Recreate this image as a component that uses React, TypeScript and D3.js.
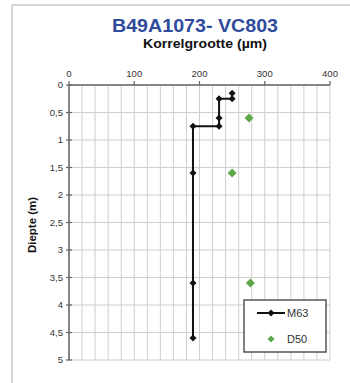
import React from "react";
import * as d3 from "d3";

const m63Size = [250, 250, 230, 230, 230, 190, 190, 190, 190];
const m63Depth = [0.15, 0.25, 0.25, 0.6, 0.75, 0.75, 1.6, 3.6, 4.6];
const d50Size = [276, 250, 278];
const d50Depth = [0.6, 1.6, 3.6];
const xTicks = [0, 100, 200, 300, 400];
const yTicks = [0, 0.5, 1, 1.5, 2, 2.5, 3, 3.5, 4, 4.5, 5];

export default function App() {
  const W = 350, H = 383;
  const x = d3.scaleLinear().domain([0, 400]).range([69, 330]);
  const y = d3.scaleLinear().domain([0, 5]).range([85, 360]);
  const xGrid = d3.range(0, 401, 20);
  const line = d3.line<number>().x((_, i) => x(m63Size[i])).y((d) => y(d));
  const diamond = (cx: number, cy: number, r: number) =>
    `M${cx},${cy - r}L${cx + r},${cy}L${cx},${cy + r}L${cx - r},${cy}Z`;
  const font = "Liberation Sans, Arial, sans-serif";
  return (
    <svg width={W} height={H} style={{ position: "absolute", left: 0, top: 0 }} fontFamily={font}>
      <rect x={0} y={0} width={W} height={H} fill="#fff" />
      <line x1={12} y1={5} x2={12} y2={H} stroke="#aaa" strokeWidth={1} />
      <line x1={12} y1={5} x2={W} y2={5} stroke="#aaa" strokeWidth={1} />
      <text x={112} y={32} fontSize={17.5} fontWeight="bold" fill="#2f4c9c" textLength={166} lengthAdjust="spacingAndGlyphs">B49A1073- VC803</text>
      <text x={143} y={48} fontSize={12} fontWeight="bold" fill="#111" textLength={124} lengthAdjust="spacingAndGlyphs">Korrelgrootte (µm)</text>
      {xGrid.map((g) => (
        <line key={"xg" + g} x1={x(g)} x2={x(g)} y1={y(0)} y2={y(5)} stroke="#cfcfcf" strokeWidth={1} />
      ))}
      {yTicks.map((t) => (
        <line key={"yg" + t} x1={x(0)} x2={x(400)} y1={y(t)} y2={y(t)} stroke="#cfcfcf" strokeWidth={1} />
      ))}
      <line x1={x(0)} x2={x(400)} y1={y(0)} y2={y(0)} stroke="#666" strokeWidth={1.5} />
      <line x1={x(0)} x2={x(0)} y1={y(0)} y2={y(5)} stroke="#666" strokeWidth={1.5} />
      {xTicks.map((t) => (
        <g key={"xt" + t}>
          <line x1={x(t)} x2={x(t)} y1={y(0) - 4} y2={y(0)} stroke="#666" strokeWidth={1.2} />
          <text x={x(t)} y={77} textAnchor="middle" fontSize={9.5} fill="#333">{t}</text>
        </g>
      ))}
      {yTicks.map((t) => (
        <g key={"yt" + t}>
          <line x1={x(0) - 3} x2={x(0) + 3} y1={y(t)} y2={y(t)} stroke="#666" strokeWidth={1.2} />
          <text x={63} y={y(t) + 3.3} textAnchor="end" fontSize={9.5} fill="#333">{String(t).replace(".", ",")}</text>
        </g>
      ))}
      <text transform={`translate(36,225) rotate(-90)`} textAnchor="middle" fontSize={11.5} fontWeight="bold" fill="#111">Diepte (m)</text>
      <path d={line(m63Depth) || ""} fill="none" stroke="#111" strokeWidth={2} />
      {m63Depth.map((d, i) => (
        <path key={"m" + i} d={diamond(x(m63Size[i]), y(d), 3.5)} fill="#111" />
      ))}
      {d50Depth.map((d, i) => (
        <path key={"d" + i} d={diamond(x(d50Size[i]), y(d), 4.5)} fill="#5fa84a" />
      ))}
      <rect x={244} y={300} width={82} height={52} fill="#fff" stroke="#555" strokeWidth={1.5} />
      <line x1={257} x2={285} y1={313} y2={313} stroke="#111" strokeWidth={2} />
      <path d={diamond(271, 313, 3.5)} fill="#111" />
      <text x={287} y={317} fontSize={11} fill="#333">M63</text>
      <path d={diamond(271, 339, 3.5)} fill="#5fa84a" />
      <text x={287} y={343} fontSize={11} fill="#333">D50</text>
    </svg>
  );
}
